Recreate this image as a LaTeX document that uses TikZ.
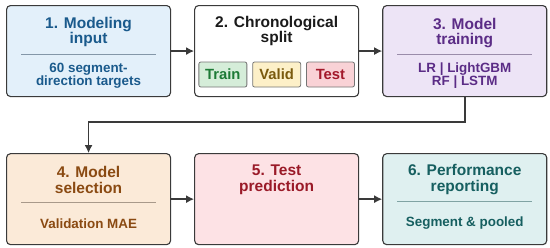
\documentclass[tikz,border=0pt]{standalone}
\usepackage{fontspec}
\setmainfont{Liberation Sans}
\usetikzlibrary{arrows.meta,positioning}

\definecolor{edgegray}{HTML}{3A3A3A}
\definecolor{inpfill}{HTML}{E3F0FA}
\definecolor{inptext}{HTML}{1A5A8C}
\definecolor{inprule}{HTML}{8497A8}
\definecolor{splittext}{HTML}{1A1A1A}
\definecolor{trnfill}{HTML}{D5EDD9}
\definecolor{trntext}{HTML}{1D7A36}
\definecolor{valfill}{HTML}{FDF0C8}
\definecolor{valtext}{HTML}{7A5A0E}
\definecolor{tstfill}{HTML}{F9D2D6}
\definecolor{tsttext}{HTML}{A3192B}
\definecolor{fitfill}{HTML}{EDE4F6}
\definecolor{fittext}{HTML}{5B2C86}
\definecolor{fitrule}{HTML}{9A8CAA}
\definecolor{selfill}{HTML}{FBEAD8}
\definecolor{seltext}{HTML}{8A4A12}
\definecolor{selrule}{HTML}{A8998A}
\definecolor{predfill}{HTML}{FDE2E5}
\definecolor{predtext}{HTML}{9A1A28}
\definecolor{repfill}{HTML}{DFF0F0}
\definecolor{reptext}{HTML}{165F60}
\definecolor{reprule}{HTML}{80A3A3}

\begin{document}
\begin{tikzpicture}[
    node distance=56pt and 23pt,
    stage/.style={
        rectangle, rounded corners=4pt, draw=edgegray, line width=1.1pt,
        minimum width=164pt, minimum height=91pt, inner sep=0pt
    },
    title/.style={font=\fontsize{15.5}{15.5}\selectfont\bfseries, align=center},
    sub/.style={font=\fontsize{13.4}{13.2}\selectfont\bfseries, align=center},
    rule/.style={line width=0.9pt},
    chip/.style={
        rectangle, rounded corners=2pt, draw=edgegray!70, line width=0.8pt,
        minimum width=48pt, minimum height=25pt, inner sep=0pt,
        font=\fontsize{14.8}{15}\selectfont\bfseries
    },
    arrow/.style={-{Latex[length=8pt,width=8pt]}, line width=1.5pt, draw=edgegray}
]
\useasboundingbox (0,0) rectangle (550pt,-247pt);

\node[stage, fill=inpfill, anchor=north west] (inp) at (6pt,-5pt) {};
\node[stage, fill=white, right=of inp] (split) {};
\node[stage, fill=fitfill, right=of split] (fit) {};
\node[stage, fill=selfill, below=of inp] (sel) {};
\node[stage, fill=predfill, right=of sel] (pred) {};
\node[stage, fill=repfill, right=of pred] (rep) {};

% stage 1
\node[title, text=inptext] (inptitle) at ([yshift=-27pt]inp.north) {1. Modeling\\input};
\draw[rule, draw=inprule] ([xshift=15pt,yshift=-49pt]inp.north west) -- ([xshift=-15pt,yshift=-49pt]inp.north east);
\node[sub, text=inptext] (inpsub) at ([yshift=-71pt]inp.north) {60 segment-\\direction targets};

% stage 2
\node[title, text=splittext] (splittitle) at ([yshift=-26pt]split.north) {2. Chronological\\split};
\node[chip, fill=valfill, text=valtext] (valid) at ([yshift=-69.5pt]split.north) {Valid};
\node[chip, fill=trnfill, text=trntext, left=5pt of valid] (train) {Train};
\node[chip, fill=tstfill, text=tsttext, right=5pt of valid] (test) {Test};

% stage 3
\node[title, text=fittext] (fittitle) at ([yshift=-28pt]fit.north) {3. Model\\training};
\draw[rule, draw=fitrule] ([xshift=15pt,yshift=-49pt]fit.north west) -- ([xshift=-15pt,yshift=-49pt]fit.north east);
\node[sub, text=fittext] (fitsub) at ([yshift=-71pt]fit.north) {LR | LightGBM\\RF | LSTM};

% stage 4
\node[title, text=seltext] (seltitle) at ([yshift=-27pt]sel.north) {4. Model\\selection};
\draw[rule, draw=selrule] ([xshift=15pt,yshift=-49pt]sel.north west) -- ([xshift=-15pt,yshift=-49pt]sel.north east);
\node[sub, text=seltext] (selsub) at ([yshift=-71pt]sel.north) {Validation MAE};

% stage 5
\node[title, text=predtext] (predtitle) at ([yshift=-26.5pt]pred.north) {5. Test\\prediction};

% stage 6
\node[title, text=reptext] (reptitle) at ([yshift=-26.5pt]rep.north) {6. Performance\\reporting};
\draw[rule, draw=reprule] ([xshift=15pt,yshift=-48pt]rep.north west) -- ([xshift=-15pt,yshift=-48pt]rep.north east);
\node[sub, text=reptext] (repsub) at ([yshift=-70pt]rep.north) {Segment \& pooled};

\draw[arrow] (inp) -- (split);
\draw[arrow] (split) -- (fit);
\draw[arrow] (fit.south) -- ++(0,-25pt) -| (sel.north);
\draw[arrow] (sel) -- (pred);
\draw[arrow] (pred) -- (rep);
\end{tikzpicture}
\end{document}
